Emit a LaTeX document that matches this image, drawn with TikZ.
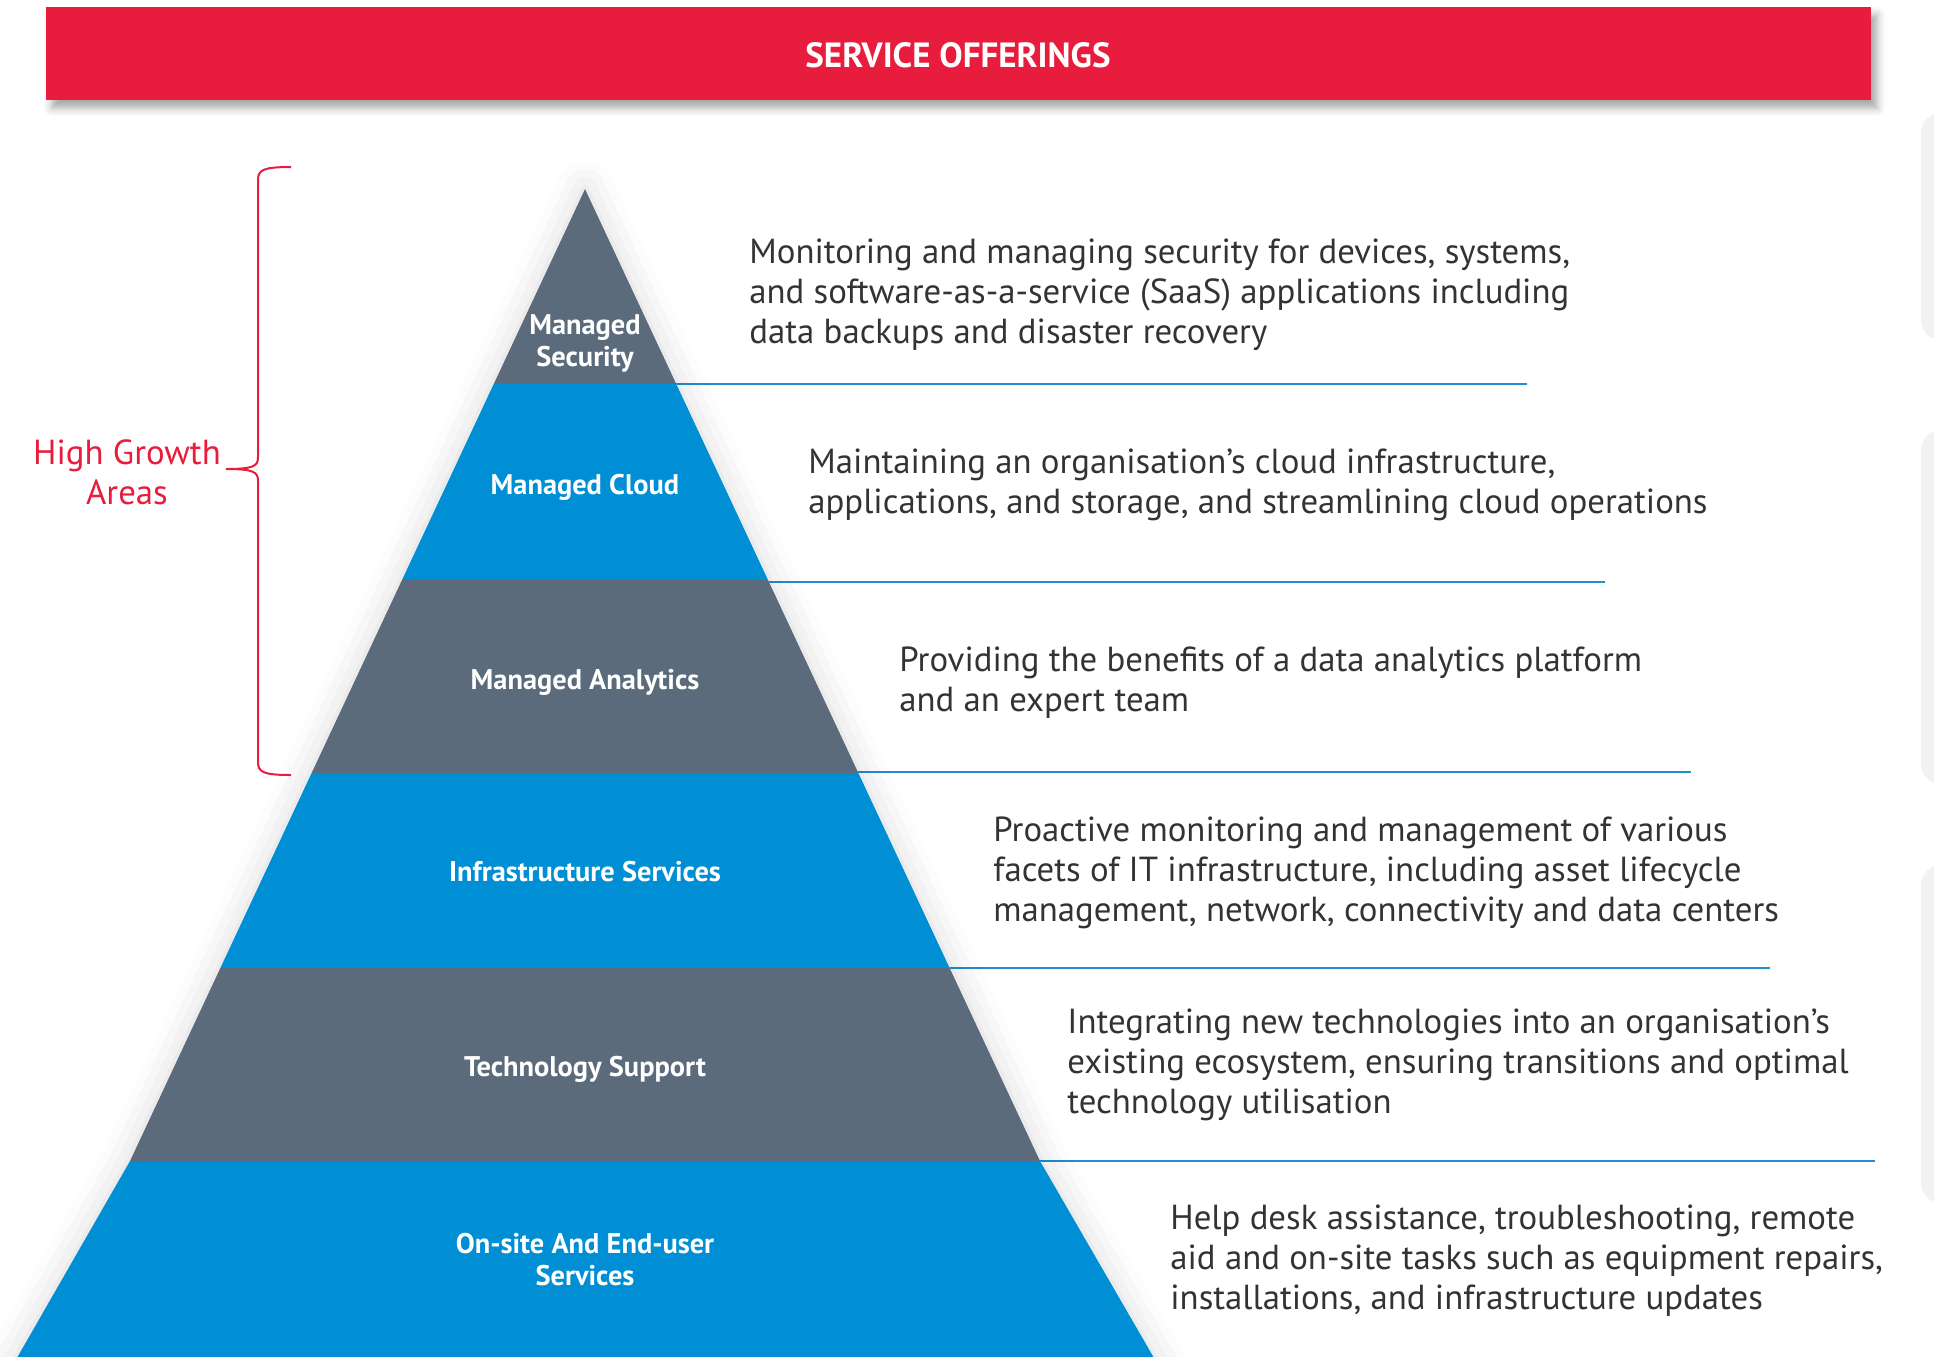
\documentclass[tikz,border=0pt]{standalone}
\usepackage{fontspec}
\setmainfont{PT Sans}
\usetikzlibrary{shadows.blur}

\definecolor{offerred}{HTML}{E81C3C}
\definecolor{layerblue}{HTML}{008FD4}
\definecolor{layergray}{HTML}{5B6B7C}
\definecolor{desctext}{HTML}{333333}
\definecolor{sepblue}{HTML}{1E8FD0}
\definecolor{tabgray}{HTML}{F2F2F2}

\tikzset{
	layer/.style={text=white, align=center, inner sep=0pt,
		font=\bfseries\fontsize{14.2}{16}\selectfont},
	desc/.style={text=desctext, align=left, anchor=west, inner sep=0pt,
		font=\fontsize{17.4}{20}\selectfont},
	sep/.style={draw=sepblue, line width=0.9pt},
}

\begin{document}
\begin{tikzpicture}[x=0.5pt, y=-0.5pt]
	\useasboundingbox (0,0) rectangle (1934,1356);

	% header bar
	\fill [offerred, blur shadow={shadow xshift=3pt, shadow yshift=-4pt,
		shadow blur radius=4pt, shadow opacity=35}]
		(46,7) rectangle (1871,100);
	\node (head) at (958,55) 
		{ \color{white}\bfseries\fontsize{17.5}{20}\selectfont SERVICE OFFERINGS };

	% tabs on the right
	\fill [tabgray, rounded corners=10pt] (1921,113) rectangle (1990,340);
	\fill [tabgray, rounded corners=10pt] (1921,430) rectangle (1990,784);
	\fill [tabgray, rounded corners=10pt] (1921,865) rectangle (1990,1203);

	% separators
	\coordinate (s1) at (674,384);
	\coordinate (s2) at (767,582);
	\coordinate (s3) at (856,772);
	\coordinate (s4) at (948,968);
	\coordinate (s5) at (1038,1161);
	\draw [sep] (s1) -- (1527,384);
	\draw [sep] (s2) -- (1605,582);
	\draw [sep] (s3) -- (1691,772);
	\draw [sep] (s4) -- (1770,968);
	\draw [sep] (s5) -- (1875,1161);

	% pyramid
	\coordinate (top) at (585,189);
	\coordinate (ml) at (130,1161);
	\coordinate (mr) at (1040,1161);
	\coordinate (bl) at (10,1370);
	\coordinate (br) at (1161,1370);
	\fill [white, blur shadow={shadow xshift=0pt, shadow yshift=0pt,
		shadow blur radius=14pt, shadow opacity=16}]
		(top) -- (ml) -- (bl) -- (br) -- (mr) -- cycle;
	\begin{scope}
		\clip (top) -- (ml) -- (bl) -- (br) -- (mr) -- cycle;
		\fill [layergray] (0,180) rectangle (1934,384);
		\fill [layerblue] (0,384) rectangle (1934,580);
		\fill [layergray] (0,580) rectangle (1934,773);
		\fill [layerblue] (0,773) rectangle (1934,968);
		\fill [layergray] (0,968) rectangle (1934,1161);
		\fill [layerblue] (0,1161) rectangle (1934,1370);
	\end{scope}

	\node [layer] (1) at (585,343) {Managed\\Security};
	\node [layer] (2) at (585,487) {Managed Cloud};
	\node [layer] (3) at (585,682) {Managed Analytics};
	\node [layer] (4) at (585,872) {Infrastructure Services};
	\node [layer] (5) at (585,1069) {Technology Support};
	\node [layer] (6) at (585,1260) {On-site And End-user\\Services};

	\node [desc] (d1) at (749,295) 
		{Monitoring and managing security for devices, systems,\\
		and software-as-a-service (SaaS) applications including\\
		data backups and disaster recovery};
	\node [desc] (d2) at (808,485) 
		{Maintaining an organisation’s cloud infrastructure,\\
		applications, and storage, and streamlining cloud operations};
	\node [desc] (d3) at (899,683) 
		{Providing the benefits of a data analytics platform\\
		and an expert team};
	\node [desc] (d4) at (993,873) 
		{Proactive monitoring and management of various\\
		facets of IT infrastructure, including asset lifecycle\\
		management, network, connectivity and data centers};
	\node [desc] (d5) at (1067,1065) 
		{Integrating new technologies into an organisation’s\\
		existing ecosystem, ensuring transitions and optimal\\
		technology utilisation};
	\node [desc] (d6) at (1170,1261) 
		{Help desk assistance, troubleshooting, remote\\
		aid and on-site tasks such as equipment repairs,\\
		installations, and infrastructure updates};

	% brace
	\node [text=offerred, align=center, inner sep=0pt,
		font=\fontsize{17.4}{20}\selectfont] (hg) at (127,472) 
		{High Growth\\Areas};
	\draw [offerred, line width=1pt] 
		(291,167) .. controls (263,167) and (258,170) .. (258,180) 
		-- (258,457) .. controls (258,466) and (254,469) .. (226,469)
		.. controls (254,469) and (258,472) .. (258,481)
		-- (258,762) .. controls (258,772) and (263,775) .. (291,775);
\end{tikzpicture}
\end{document}
